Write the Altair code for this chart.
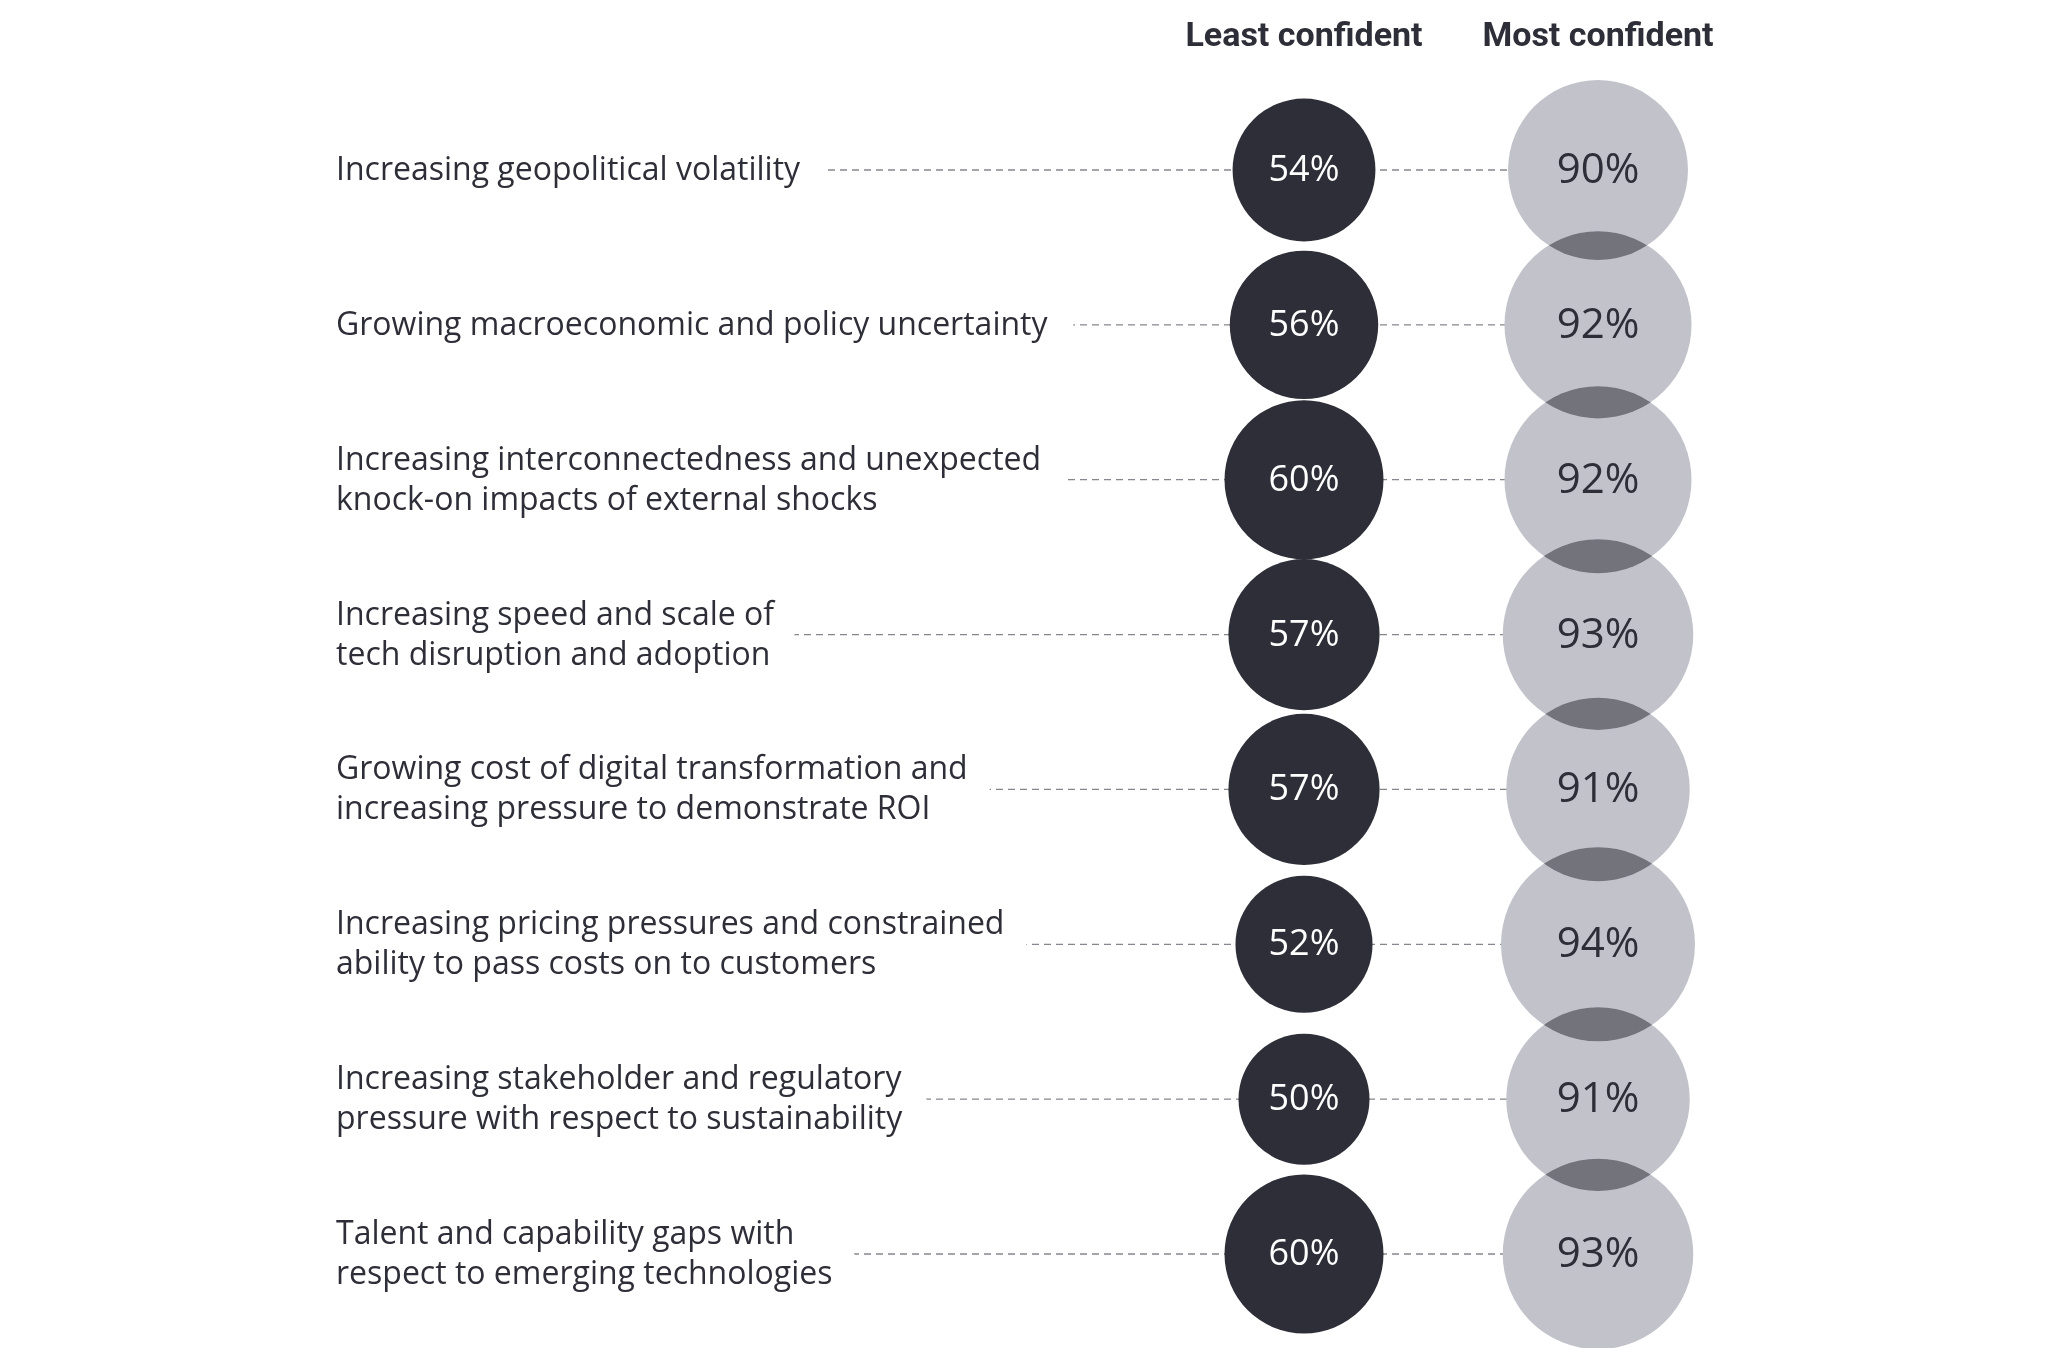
import altair as alt
import pandas as pd

items = [
    "Increasing geopolitical volatility",
    "Growing macroeconomic and policy uncertainty",
    "Increasing interconnectedness and unexpected\nknock-on impacts of external shocks",
    "Increasing speed and scale of\ntech disruption and adoption",
    "Growing cost of digital transformation and\nincreasing pressure to demonstrate ROI",
    "Increasing pricing pressures and constrained\nability to pass costs on to customers",
    "Increasing stakeholder and regulatory\npressure with respect to sustainability",
    "Talent and capability gaps with\nrespect to emerging technologies",
]
least = [54, 56, 60, 57, 57, 52, 50, 60]
most = [90, 92, 92, 93, 91, 94, 91, 93]
headers = ["Least confident", "Most confident"]

df = pd.DataFrame({"item": items, "least": least, "most": most})

DARK = "#2e2e38"
X_LABEL, X_LEAST, X_MOST = 328, 1296, 1590
LH = 40

Y = alt.Y("item:N", sort=None, axis=None,
          scale=alt.Scale(type="point", range=[162, 1246], padding=0))

dark_size = alt.Size("least:Q", legend=None,
                     scale=alt.Scale(type="linear", zero=False, domain=[50, 60], range=[17161, 25281]))
gray_size = alt.Size("most:Q", legend=None,
                     scale=alt.Scale(type="linear", zero=False, domain=[90, 94], range=[32400, 37636]))

base = alt.Chart(df).transform_calculate(
    nlines="length(split(datum.item, '\\n'))")

rule = base.mark_rule(strokeDash=[7, 5], color="#85858f", strokeWidth=1.3).encode(
    y=Y, x=alt.value(X_LABEL + 60), x2=alt.value(X_MOST))

label_kw = dict(align="left", baseline="middle", font="Open Sans", fontSize=32,
                lineBreak="\n", lineHeight=LH)


def label_layers(n, dy):
    src = base.transform_filter(f"datum.nlines == {n}")
    halo = src.mark_text(color="white", stroke="white", strokeWidth=54, strokeJoin="round",
                         dy=dy, **label_kw).encode(y=Y, x=alt.value(X_LABEL), text="item:N")
    txt = src.mark_text(color=DARK, dy=dy, **label_kw).encode(
        y=Y, x=alt.value(X_LABEL), text="item:N")
    return halo, txt


h1a, t1a = label_layers(1, 0)
h2a, t2a = label_layers(2, -LH / 2)

gray_base = base.mark_point(filled=True, shape="circle", color="white", opacity=1, strokeWidth=0).encode(
    y=Y, x=alt.value(X_MOST), size=gray_size)
gray_a = base.mark_point(filled=True, shape="circle", color="rgb(22,22,66)", opacity=0.2, strokeWidth=0).encode(
    y=Y, x=alt.value(X_MOST), size=gray_size)
gray_b = base.mark_point(filled=True, shape="circle", color="rgb(198,198,185)", opacity=1, strokeWidth=0,
                         blend="color-burn").encode(
    y=Y, x=alt.value(X_MOST), size=gray_size)

dark = base.mark_point(filled=True, shape="circle", color=DARK, opacity=1, strokeWidth=0).encode(
    y=Y, x=alt.value(X_LEAST), size=dark_size)

dark_text = base.transform_calculate(lbl="datum.least + '%'").mark_text(
    align="center", baseline="middle", font="Open Sans", fontSize=36, color="white").encode(
    y=Y, x=alt.value(X_LEAST), text="lbl:N")
gray_text = base.transform_calculate(lbl="datum.most + '%'").mark_text(
    align="center", baseline="middle", font="Open Sans", fontSize=42, color=DARK).encode(
    y=Y, x=alt.value(X_MOST), text="lbl:N")

hdr_kw = dict(align="center", baseline="middle", font="Roboto", fontSize=34, fontWeight="bold", color=DARK)
hd1 = alt.Chart(pd.DataFrame({"h": [headers[0]]})).mark_text(**hdr_kw).encode(
    x=alt.value(X_LEAST), y=alt.value(28), text="h:N")
hd2 = alt.Chart(pd.DataFrame({"h": [headers[1]]})).mark_text(**hdr_kw).encode(
    x=alt.value(X_MOST), y=alt.value(28), text="h:N")

chart = alt.layer(
    rule, h1a, h2a, t1a, t2a, gray_base, dark, gray_a, gray_b, dark_text, gray_text, hd1, hd2
).resolve_scale(size="independent").properties(
    width=2020, height=1340, padding=0,
    autosize=alt.AutoSizeParams(type="none"),
).configure(background="white").configure_view(strokeWidth=0, stroke="transparent")

chart.save("out.html", embed_options={"renderer": "svg", "actions": False})
